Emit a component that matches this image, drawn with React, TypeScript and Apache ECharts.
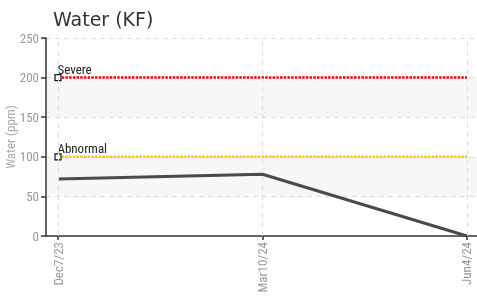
import React, { useEffect, useRef } from "react";
import * as echarts from "echarts";

const categories = ["Dec7/23", "Mar10/24", "Jun4/24"];
const waterValues = [72, 78, 0];
const severeLevel = 200;
const abnormalLevel = 100;
const yMin = 0;
const yMax = 250;
const yInterval = 50;

// categories are placed at i * STEP on a value x-axis
const STEP = 100;

const NARROW = '"Liberation Sans Narrow", "Roboto Condensed", "DejaVu Sans Condensed", "Arial Narrow", sans-serif';

function thresholdSeries(name: string, level: number, color: string) {
  const first = 0;
  const last = (categories.length - 1) * STEP;
  return {
    type: "line",
    name,
    z: 4,
    data: [
      {
        value: [first, level],
        symbol: "rect",
        symbolSize: 6,
        label: {
          show: true,
          formatter: name,
          position: [3, 2],
          align: "left",
          verticalAlign: "bottom",
          color: "#222",
          fontSize: 13,
          fontFamily: NARROW,
        },
      },
      { value: [last, level], symbol: "none" },
    ],
    itemStyle: { color: "#fff", borderColor: "#111", borderWidth: 1.2 },
    lineStyle: { color, width: 2.5, type: [2.5, 1.2] },
    silent: true,
  };
}

export default function App() {
  const ref = useRef<HTMLDivElement>(null);
  useEffect(() => {
    if (!ref.current) return;
    const chart = echarts.init(ref.current, null, { renderer: "svg" });
    const pos = categories.map((_, i) => i * STEP);
    chart.setOption({
      animation: false,
      title: {
        text: "Water (KF)",
        left: 53,
        top: 9,
        padding: 0,
        textStyle: { fontSize: 19, fontWeight: "normal", color: "#333", fontFamily: "DejaVu Sans" },
      },
      grid: { left: 46, right: 0, top: 38, bottom: 60, containLabel: false, outerBoundsMode: "none" },
      xAxis: {
        type: "value",
        min: -5.87,
        max: 204.9,
        axisLine: { show: true, lineStyle: { color: "#333", width: 1.5 } },
        axisTick: { show: true, customValues: pos, length: 4, lineStyle: { color: "#333", width: 1.5 } },
        axisLabel: {
          customValues: pos,
          rotate: 90,
          margin: 6,
          color: "#999",
          fontSize: 13,
          fontFamily: NARROW,
          formatter: (v: number) => categories[Math.round(v / STEP)],
        },
        splitLine: { show: false },
      },
      yAxis: {
        type: "value",
        min: yMin,
        max: yMax,
        interval: yInterval,
        name: "Water (ppm)",
        nameLocation: "middle",
        nameGap: 29,
        nameMoveOverlap: false,
        nameTextStyle: { color: "#aaa", fontSize: 13, fontFamily: NARROW },
        axisLine: { show: true, onZero: false, lineStyle: { color: "#333", width: 1.5 } },
        axisTick: { show: true, length: 5, lineStyle: { color: "#333", width: 1.5 } },
        axisLabel: { color: "#999", fontSize: 13, margin: 7, fontFamily: NARROW },
        splitLine: { show: true, lineStyle: { color: "#ddd", type: [5, 4], width: 1 } },
        splitArea: { show: true, areaStyle: { color: ["rgba(255,255,255,0)", "#f7f7f7"] } },
      },
      series: [
        {
          type: "line",
          name: "Water",
          z: 3,
          symbol: "none",
          data: waterValues.map((v, i) => [i * STEP, v]),
          lineStyle: { color: "#4a4a4a", width: 3 },
          markLine: {
            silent: true,
            symbol: "none",
            label: { show: false },
            lineStyle: { color: "#ddd", type: [5, 4], width: 1 },
            data: pos.map((p) => ({ xAxis: p })),
          },
        },
        thresholdSeries("Severe", severeLevel, "#ff0000"),
        thresholdSeries("Abnormal", abnormalLevel, "#ffc800"),
      ],
    });
    return () => chart.dispose();
  }, []);
  return <div ref={ref} style={{ position: "fixed", left: 0, top: 0, width: 477, height: 296 }} />;
}
